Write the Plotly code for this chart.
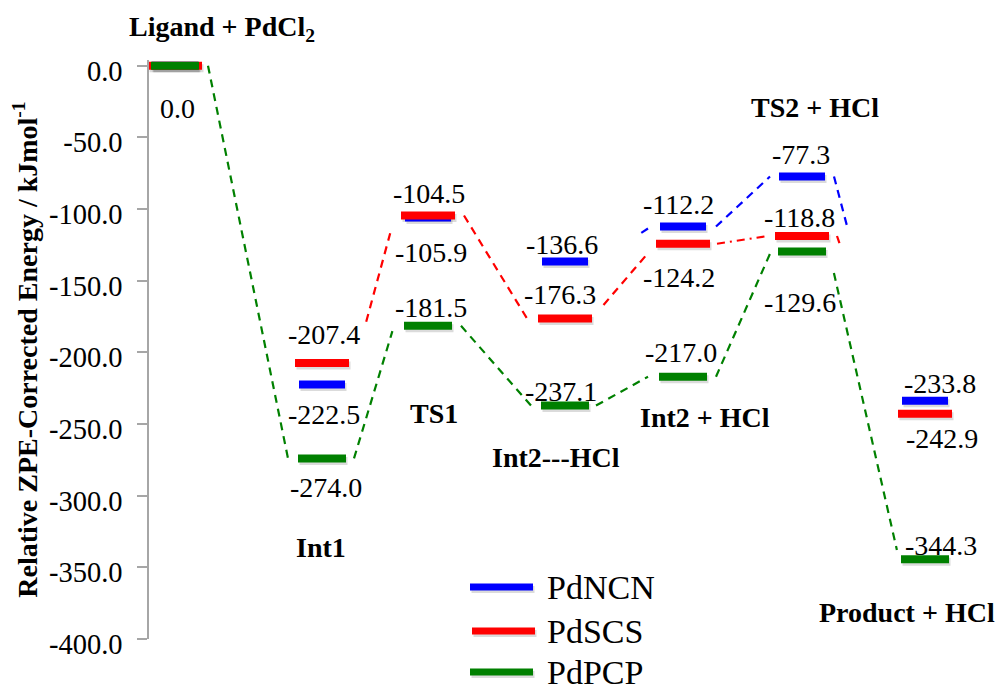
import plotly.graph_objects as go

# ---------------- data ----------------
states = ["Ligand + PdCl<sub>2</sub>", "Int1", "TS1", "Int2---HCl",
          "Int2 + HCl", "TS2 + HCl", "Product + HCl"]
series_names = ["PdNCN", "PdSCS", "PdPCP"]
pdncn = [0.0, -222.5, -105.9, -136.6, -112.2, -77.3, -233.8]
pdscs = [0.0, -207.4, -104.5, -176.3, -124.2, -118.8, -242.9]
pdpcp = [0.0, -274.0, -181.5, -237.1, -217.0, -129.6, -344.3]
tick_vals = [0, -50, -100, -150, -200, -250, -300, -350, -400]
tick_labels = ["0.0", "-50.0", "-100.0", "-150.0", "-200.0", "-250.0",
               "-300.0", "-350.0", "-400.0"]

# ---------------- layout / style ----------------
PAGE_W, PAGE_H = 1005, 684
OFF = 8                      # default body margin of the html page
W, H = PAGE_W - OFF, PAGE_H - OFF
PLOT_LEFT, PLOT_TOP, PLOT_BOTTOM = 149, 60, 639   # page pixels
L = PLOT_LEFT - OFF
T = PLOT_TOP - OFF
B = H - (PLOT_BOTTOM - OFF)
R = 0
YMIN, YMAX = -400, 4
PX = (H - T - B) / (YMAX - YMIN)

def px2paper(px):
    return (px - PLOT_LEFT) / (W - L - R)

def py2paper(py):
    return (PLOT_BOTTOM - py) / (H - T - B)

SERIF = "Liberation Serif, Times New Roman, serif"
colors = ["#0000FF", "#FF0000", "#008000"]
values = [pdncn, pdscs, pdpcp]
state_x = [175, 322, 428, 565, 683, 802, 925]
bar_w = [46, 54, 48]

# label offsets (dx, dy) in px relative to the level, dy positive = down
label_off = [
    [None, (1.5, 30), (3, 34.5), (-3, -17.5), (-5, -22.5), (-1.5, -22.5), (15, -17)],
    [None, (2, -28), (0.5, -22), (-5, -24), (-4.5, 34), (-3, -18.5), (16.5, 25)],
    [(2, 43), (4, 29), (3, -18), (-4, -14.5), (-2, -24.5), (-2.5, 51), (16, -14)],
]

# connectors: series, from, to, gap0, gap1, t0, t1, dash
connectors = [
    (2, 0, 1, 9, 10, 0.0, 1.0, "8px,6px"),
    (2, 1, 2, 8, 10, 0.0, 0.96, "8px,6px"),
    (2, 2, 3, 9, 10, 0.0, 1.0, "8px,6px"),
    (2, 3, 4, 7, 11, 0.0, 1.0, "8px,6px"),
    (2, 4, 5, 9, 7, 0.0, 1.0, "8px,6px"),
    (2, 5, 6, 3, 2, 0.07, 0.97, "8px,6px"),
    (1, 1, 2, 6, 6, 0.28, 0.88, "8px,6px"),
    (1, 2, 3, 9, 11, 0.0, 1.0, "8px,6px"),
    (1, 3, 4, 0, 0, 0.18, 0.88, "8px,6px"),
    (1, 4, 5, 7, 7, 0.0, 1.0, "8px,5px,2px,5px"),
    (1, 5, 6, 8, 0, 0.0, 0.04, "8px,6px"),
    (0, 3, 4, 9, 9, 0.82, 0.95, "8px,6px"),
    (0, 4, 5, 10, 9, 0.0, 1.0, "8px,6px"),
    (0, 5, 6, 9, 9, 0.0, 0.24, "8px,6px"),
]

fig = go.Figure()

# shadows of the levels
sx, sy = [], []
for si, vals in enumerate(values):
    for i, v in enumerate(vals):
        sx += [state_x[i] - bar_w[si] / 2 + 1.5, state_x[i] + bar_w[si] / 2 + 1.5, None]
        sy += [v - 2.5 / PX, v - 2.5 / PX, None]
fig.add_trace(go.Scatter(x=sx, y=sy, mode="lines", hoverinfo="skip",
                         line=dict(color="rgba(0,0,0,0.14)", width=8),
                         showlegend=False))

# dashed connectors
for (si, a, b, g0, g1, t0, t1, dash) in connectors:
    vals = values[si]
    x0 = state_x[a] + bar_w[si] / 2 + g0
    x1 = state_x[b] - bar_w[si] / 2 - g1
    y0, y1 = vals[a], vals[b]
    xs = [x0 + t0 * (x1 - x0), x0 + t1 * (x1 - x0)]
    ys = [y0 + t0 * (y1 - y0), y0 + t1 * (y1 - y0)]
    fig.add_trace(go.Scatter(x=xs, y=ys, mode="lines", hoverinfo="skip",
                             line=dict(color=colors[si], width=2.2, dash=dash),
                             showlegend=False))

# energy levels
for si, vals in enumerate(values):
    xs, ys = [], []
    for i, v in enumerate(vals):
        xs += [state_x[i] - bar_w[si] / 2, state_x[i] + bar_w[si] / 2, None]
        ys += [v, v, None]
    fig.add_trace(go.Scatter(x=xs, y=ys, mode="lines", name=series_names[si],
                             line=dict(color=colors[si], width=8),
                             showlegend=False))

annotations = []
# value labels
for si, vals in enumerate(values):
    for i, v in enumerate(vals):
        off = label_off[si][i]
        if off is None:
            continue
        annotations.append(dict(
            x=state_x[i] + off[0], y=v, yshift=-off[1], xref="x", yref="y",
            text=f"{v:.1f}", showarrow=False, xanchor="center", yanchor="middle",
            font=dict(family=SERIF, size=28, color="black")))

# state labels (page px positions)
state_label_pos = [(222, 28), (321, 547), (434, 413), (556, 457),
                   (705, 417), (815, 107), (907, 612)]
for name, (px, py) in zip(states, state_label_pos):
    annotations.append(dict(
        x=px2paper(px), y=py2paper(py), xref="paper", yref="paper",
        text=name, showarrow=False, xanchor="center", yanchor="middle",
        font=dict(family=SERIF, size=28, color="black", weight="bold")))

# legend
legend_rows = [(470, 533, 587, 545), (472, 535, 631, 545), (470, 533, 672, 545)]
shapes = []
for si, (lx0, lx1, ly, tx) in enumerate(legend_rows):
    shapes.append(dict(type="line", xref="paper", yref="paper",
                       x0=px2paper(lx0 + 1.5), x1=px2paper(lx1 + 1.5),
                       y0=py2paper(ly + 2.5), y1=py2paper(ly + 2.5),
                       line=dict(color="rgba(0,0,0,0.14)", width=7)))
    shapes.append(dict(type="line", xref="paper", yref="paper",
                       x0=px2paper(lx0), x1=px2paper(lx1),
                       y0=py2paper(ly), y1=py2paper(ly),
                       line=dict(color=colors[si], width=7)))
    annotations.append(dict(
        x=px2paper(tx), y=py2paper(ly), xref="paper", yref="paper",
        text=series_names[si], showarrow=False, xanchor="left", yanchor="middle",
        font=dict(family=SERIF, size=34, color="black")))

fig.update_layout(
    width=W, height=H,
    margin=dict(l=L, r=R, t=T, b=B, autoexpand=False),
    paper_bgcolor="white", plot_bgcolor="white",
    xaxis=dict(range=[PLOT_LEFT, PAGE_W], visible=False, fixedrange=True),
    yaxis=dict(
        range=[YMIN, YMAX], tickvals=tick_vals, ticktext=tick_labels,
        ticks="outside", ticklen=10, tickwidth=1.5, tickcolor="#a6a6a6",
        showline=True, linecolor="#a6a6a6", linewidth=1.5,
        showgrid=False, zeroline=False, automargin=False,
        ticklabelstandoff=9, ticklabelshift=5,
        tickfont=dict(family=SERIF, size=28.5, color="black"),
        title=dict(text="Relative ZPE-Corrected Energy / kJmol<sup>-1</sup>",
                   standoff=10,
                   font=dict(family=SERIF, size=28, color="black", weight="bold")),
    ),
    annotations=annotations,
    shapes=shapes,
    showlegend=False,
)

fig.write_html("out.html")
